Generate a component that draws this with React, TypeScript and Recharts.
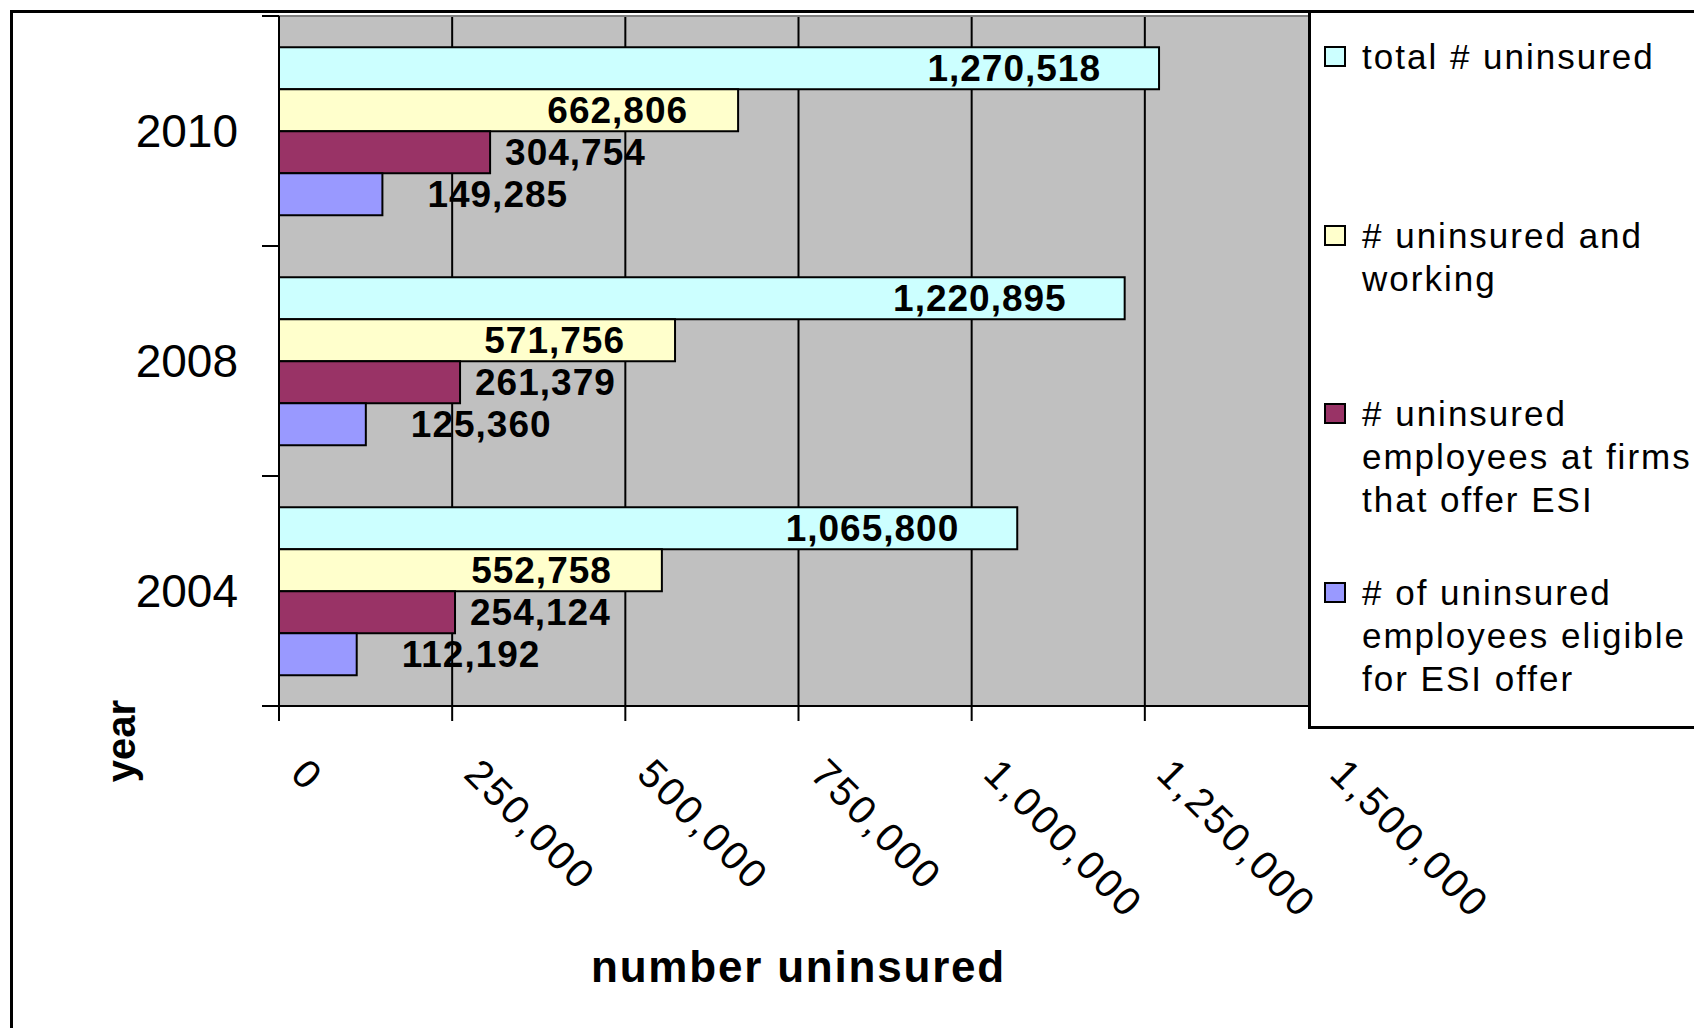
import {
  Bar,
  BarChart,
  CartesianGrid,
  Label,
  LabelList,
  Legend,
  XAxis,
  YAxis,
} from "recharts";

const FONT = '"Liberation Sans", Arial, Helvetica, sans-serif';

const years = ["2010", "2008", "2004"];
const totalUninsured = [1270518, 1220895, 1065800];
const uninsuredWorking = [662806, 571756, 552758];
const uninsuredAtOfferingFirms = [304754, 261379, 254124];
const uninsuredEligible = [149285, 125360, 112192];
const valueTicks = [0, 250000, 500000, 750000, 1000000, 1250000, 1500000];

const data = years.map((year, i) => ({
  year,
  total: totalUninsured[i],
  working: uninsuredWorking[i],
  firms: uninsuredAtOfferingFirms[i],
  eligible: uninsuredEligible[i],
}));

const series = [
  { key: "total", name: "total # uninsured", color: "#CCFFFF", place: "inside", gap: 58 },
  { key: "working", name: "# uninsured and\nworking", color: "#FFFFCC", place: "inside", gap: 50 },
  { key: "firms", name: "# uninsured\nemployees at firms\nthat offer ESI", color: "#993366", place: "outside", gap: 15 },
  { key: "eligible", name: "# of uninsured\nemployees eligible\nfor ESI offer", color: "#9999FF", place: "outside", gap: 45 },
];

const fmt = (v: number) => Number(v).toLocaleString("en-US");

const valueLabelStyle = {
  fontFamily: FONT,
  fontSize: 37,
  fontWeight: 700,
  letterSpacing: 1,
};

function makeValueLabel(place: string, gap: number) {
  return (props: any) => {
    const { x, y, width, height, value } = props;
    const inside = place === "inside";
    return (
      <text
        x={inside ? x + width - gap : x + width + gap}
        y={y + height / 2}
        textAnchor={inside ? "end" : "start"}
        dominantBaseline="central"
        fill="#000"
        style={valueLabelStyle}
      >
        {fmt(value)}
      </text>
    );
  };
}

// year name at the band centre, tick marks on the band edges
function YearTick(props: any) {
  const { x, y, payload, index, visibleTicksCount } = props;
  const half = payload.offset || 0;
  const isLast = index === visibleTicksCount - 1;
  return (
    <g>
      <line x1={x - 17} x2={x} y1={y - half} y2={y - half} stroke="#000" strokeWidth={2} />
      {isLast && (
        <line x1={x - 17} x2={x} y1={y + half} y2={y + half} stroke="#000" strokeWidth={2} />
      )}
      <text
        x={x - 41}
        y={y}
        textAnchor="end"
        dominantBaseline="central"
        fill="#000"
        style={{ fontFamily: FONT, fontSize: 46 }}
      >
        {payload.value}
      </text>
    </g>
  );
}

function ValueTick(props: any) {
  const { x, y, payload } = props;
  const tx = x + 10;
  const ty = y + 55;
  return (
    <text
      x={tx}
      y={ty}
      transform={`rotate(45 ${tx} ${ty})`}
      textAnchor="start"
      fill="#000"
      style={{ fontFamily: FONT, fontSize: 40, letterSpacing: 3 }}
    >
      {fmt(payload.value)}
    </text>
  );
}

function YearTitle(props: any) {
  const { viewBox } = props;
  const cx = viewBox.x + 42;
  const cy = viewBox.y + viewBox.height + 35;
  return (
    <text
      x={cx}
      y={cy}
      transform={`rotate(-90 ${cx} ${cy})`}
      textAnchor="middle"
      dominantBaseline="central"
      fill="#000"
      style={{ fontFamily: FONT, fontSize: 40, fontWeight: 700 }}
    >
      year
    </text>
  );
}

function LegendBox() {
  return (
    <div
      style={{
        boxSizing: "border-box",
        width: "100%",
        height: "100%",
        border: "3px solid #000",
        background: "#fff",
        paddingTop: 22,
        fontFamily: FONT,
        fontSize: 35,
        letterSpacing: 2,
        lineHeight: "43.2px",
        color: "#000",
      }}
    >
      {series.map((s) => (
        <div key={s.key} style={{ position: "relative", height: 178.5 }}>
          <div
            style={{
              position: "absolute",
              left: 13,
              top: 11,
              width: 22,
              height: 21,
              boxSizing: "border-box",
              border: "2px solid #000",
              background: s.color,
            }}
          />
          <div style={{ position: "absolute", left: 51, top: 0, whiteSpace: "pre" }}>{s.name}</div>
        </div>
      ))}
    </div>
  );
}

export default function App() {
  return (
    <div
      style={{
        position: "fixed",
        left: 0,
        top: 0,
        width: 1694,
        height: 1028,
        overflow: "hidden",
        background: "#fff",
      }}
    >
      <div
        style={{
          position: "absolute",
          left: 10,
          top: 10,
          width: 1760,
          height: 1100,
          border: "3px solid #000",
        }}
      />
      <div style={{ position: "absolute", left: 0, top: 0 }}>
        <BarChart
          width={1694}
          height={1028}
          data={data}
          layout="vertical"
          margin={{ top: 16, right: 376, bottom: 40, left: 79 }}
          barCategoryGap="13.6%"
          barGap={0}
        >
          {/* grey plot area with black value gridlines */}
          <CartesianGrid
            horizontal={false}
            vertical={true}
            stroke="#000"
            strokeWidth={2}
            fill="#C0C0C0"
            fillOpacity={1}
          />
          {/* thin grey rule along the top of the plot area */}
          <CartesianGrid
            vertical={false}
            horizontal={true}
            horizontalCoordinatesGenerator={({ offset }: any) => [offset.top]}
            stroke="#808080"
            strokeWidth={2}
          />
          <XAxis
            type="number"
            domain={[0, 1500000]}
            ticks={valueTicks}
            interval={0}
            height={282}
            tickSize={15}
            tickMargin={0}
            tickLine={{ stroke: "#000", strokeWidth: 2 }}
            axisLine={{ stroke: "#000", strokeWidth: 2 }}
            tick={<ValueTick />}
          >
            <Label
              value="number uninsured"
              position="insideBottom"
              offset={6}
              fill="#000"
              fontSize={44}
              fontWeight={700}
              fontFamily={FONT}
              style={{ letterSpacing: 1.8 }}
            />
          </XAxis>
          <YAxis
            type="category"
            dataKey="year"
            interval={0}
            width={200}
            tickSize={0}
            tickMargin={0}
            tickLine={false}
            axisLine={{ stroke: "#000", strokeWidth: 2 }}
            tick={<YearTick />}
          >
            <Label content={YearTitle} />
          </YAxis>
          {series.map((s) => (
            <Bar
              key={s.key}
              dataKey={s.key}
              name={s.name}
              fill={s.color}
              stroke="#000"
              strokeWidth={2}
              isAnimationActive={false}
            >
              <LabelList dataKey={s.key} content={makeValueLabel(s.place, s.gap)} />
            </Bar>
          ))}
          <Legend
            layout="horizontal"
            verticalAlign="middle"
            align="center"
            content={() => <LegendBox />}
            wrapperStyle={{ left: 1308, top: 10, width: 420, height: 719 }}
          />
        </BarChart>
      </div>
    </div>
  );
}
